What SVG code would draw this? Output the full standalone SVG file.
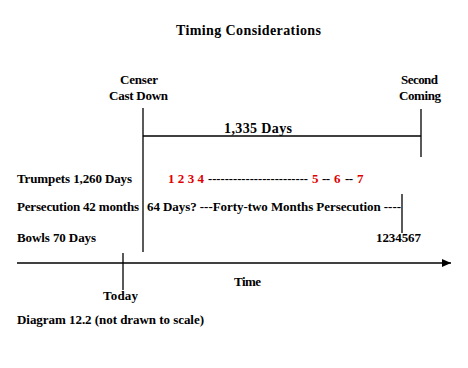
<svg xmlns="http://www.w3.org/2000/svg" width="468" height="368" viewBox="0 0 468 368">
<defs>
<style>
.tx{font-weight:bold;font-size:13px;fill:#000}
.t14{font-size:14px}
.red{fill:#e00000}
.ln{stroke:#000;stroke-width:1.3;fill:none}
</style>
<marker id="arr" markerWidth="10" markerHeight="10" refX="9" refY="4" orient="auto" markerUnits="userSpaceOnUse">
<path d="M0,0 L9,4 L0,8 Z" fill="#000"/>
</marker>
</defs>
<rect width="468" height="368" fill="#fff"/>
<g class="tx" font-family="Liberation Serif, Times New Roman, serif">
<text class="t14" x="176" y="35" textLength="145">Timing Considerations</text>
<g id="censer">
<text x="120" y="84" textLength="38">Censer</text>
<text x="109" y="100" textLength="59">Cast Down</text>
</g>
<g id="second-coming">
<text x="401" y="84" textLength="37">Second</text>
<text x="399" y="100" textLength="42">Coming</text>
</g>
<g id="span-1335">
<text class="t14" x="224" y="133" textLength="68">1,335 Days</text>
</g>
<g id="trumpets">
<text x="17" y="183" textLength="115">Trumpets 1,260 Days</text>
<text class="red" x="168" y="183" textLength="36">1 2 3 4</text>
<text x="208" y="183" textLength="100" lengthAdjust="spacingAndGlyphs">------------------------</text>
<text class="red" x="312" y="183">5</text>
<text x="322" y="183" textLength="8">--</text>
<text class="red" x="334" y="183">6</text>
<text x="345" y="183" textLength="8">--</text>
<text class="red" x="357" y="183">7</text>
</g>
<g id="persecution">
<text x="17" y="211" textLength="122">Persecution 42 months</text>
<text x="147" y="211" textLength="254">64 Days? ---Forty-two Months Persecution ----</text>
</g>
<g id="bowls">
<text x="17" y="242" textLength="79">Bowls 70 Days</text>
<text x="376" y="242" textLength="45">1234567</text>
</g>
<g id="today">
<text x="103" y="300" textLength="35">Today</text>
</g>
<g id="time">
<text x="234" y="286" textLength="27">Time</text>
</g>
<text x="17" y="324" textLength="187">Diagram 12.2 (not drawn to scale)</text>
</g>
<g id="connectors">
<line class="ln" x1="143" y1="108" x2="143" y2="252"/>
<line class="ln" x1="143" y1="136" x2="421" y2="136"/>
<line class="ln" x1="421" y1="109" x2="421" y2="157"/>
<line class="ln" x1="402" y1="194" x2="402" y2="233"/>
<line class="ln" x1="123" y1="253" x2="123" y2="290"/>
<line class="ln" x1="17" y1="263" x2="451" y2="263" marker-end="url(#arr)"/>
</g>
</svg>
